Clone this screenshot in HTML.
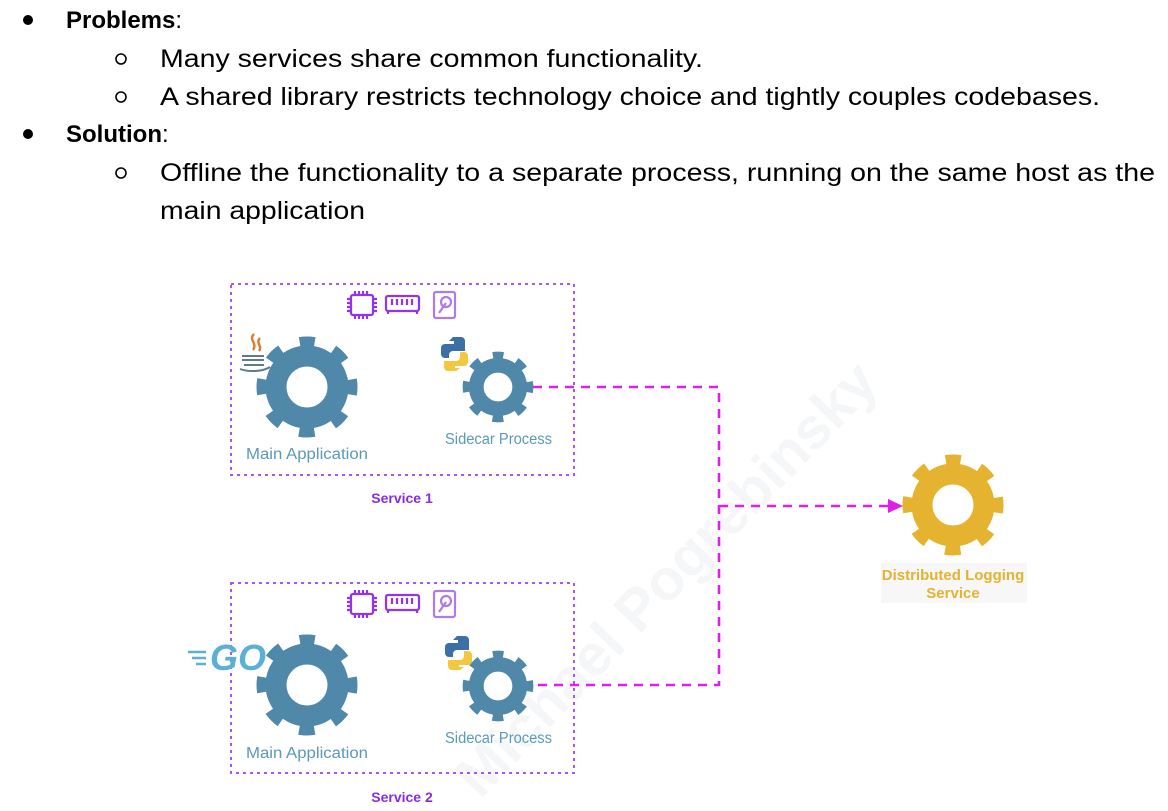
<!DOCTYPE html>
<html><head><meta charset="utf-8"><style>
html,body{margin:0;padding:0;background:#fff;}
body{width:1168px;height:811px;overflow:hidden;position:relative;font-family:"Liberation Sans",Arial,sans-serif;}
svg{position:absolute;left:0;top:0;}
</style></head><body>
<svg width="1168" height="811" viewBox="0 0 1168 811" xmlns="http://www.w3.org/2000/svg">
<defs>
<g id="gear">
  <circle r="0.62" fill="none" stroke-width="0.42"/>
  <circle r="0.88" fill="none" stroke-width="0.26" stroke-dasharray="0.3 0.391" stroke-dashoffset="0.15" transform="rotate(-90)"/>
</g>
</defs>
<!-- watermark -->
<text x="0" y="0" transform="translate(480,800) rotate(-46)" font-family="Liberation Sans" font-weight="bold" font-size="58" fill="#f5f6f8">Michael Pogrebinsky</text>

<!-- top text -->
<g font-family="Liberation Sans" font-size="25" fill="#000">
  <circle cx="28" cy="20" r="5"/>
  <text x="66" y="28" font-weight="bold" font-size="24">Problems<tspan font-weight="normal">:</tspan></text>
  <circle cx="121" cy="59" r="5" fill="none" stroke="#000" stroke-width="1.6"/>
  <text x="160" y="67" textLength="543" lengthAdjust="spacingAndGlyphs">Many services share common functionality.</text>
  <circle cx="121" cy="97" r="5" fill="none" stroke="#000" stroke-width="1.6"/>
  <text x="160" y="105" textLength="940" lengthAdjust="spacingAndGlyphs">A shared library restricts technology choice and tightly couples codebases.</text>
  <circle cx="28" cy="134" r="5"/>
  <text x="66" y="142" font-weight="bold" font-size="24">Solution<tspan font-weight="normal">:</tspan></text>
  <circle cx="121" cy="173" r="5" fill="none" stroke="#000" stroke-width="1.6"/>
  <text x="160" y="181" textLength="995" lengthAdjust="spacingAndGlyphs">Offline the functionality to a separate process, running on the same host as the</text>
  <text x="160" y="219" textLength="205" lengthAdjust="spacingAndGlyphs">main application</text>
</g>

<!-- boxes -->
<g fill="none" stroke="#a855f7" stroke-width="2" stroke-dasharray="3 4">
  <rect x="231" y="284" width="343" height="191"/>
  <rect x="231" y="583" width="343" height="190"/>
</g>

<!-- resource icons -->
<g fill="none" stroke="#9333ea" stroke-width="2.2">
  <g id="icons1">
    <rect x="351" y="295" width="22" height="20" rx="2"/>
    <path d="M355 291v4M359 291v4M363 291v4M367 291v4M355 315v4M359 315v4M363 315v4M367 315v4M347 299h4M347 303h4M347 307h4M347 311h4M373 299h4M373 303h4M373 307h4M373 311h4"/>
    <rect x="386" y="296" width="33" height="15" rx="2"/>
    <path d="M392 299v6M397 299v6M402 299v6M407 299v6M412 299v6M388 311v3M417 311v3"/>
    <rect x="434" y="292" width="21" height="26" rx="2" stroke="#b07ae8"/>
    <circle cx="446" cy="302" r="5" stroke="#b07ae8"/>
    <path d="M446 303l-7 10" stroke="#b07ae8"/>
  </g>
  <use href="#icons1" transform="translate(0,299)"/>
</g>

<!-- connectors -->
<g fill="none" stroke="#e020e8" stroke-width="2.6" stroke-dasharray="9 7">
  <path d="M533 387H719V685H533"/>
  <path d="M719 506H892"/>
</g>
<path d="M888 499L903 506L888 513Z" fill="#e020e8"/>

<!-- gears -->
<g stroke="#4f88a8" fill="none">
  <use href="#gear" transform="translate(307,387) scale(50)"/>
  <use href="#gear" transform="translate(498,387) scale(35)"/>
  <use href="#gear" transform="translate(307,685) scale(50)"/>
  <use href="#gear" transform="translate(498,686) scale(35)"/>
</g>
<g stroke="#e5b32f" fill="none">
  <use href="#gear" transform="translate(953,505) scale(50)"/>
</g>

<!-- java -->
<g>
  <path d="M254 334c-6 6 4 9-1 16M260 338c-5 5 3 8-1 13" stroke="#e07a2e" stroke-width="2.4" fill="none"/>
  <path d="M242 356h22M242 360h22M244 365h20M240 369c8 3 22 3 30 -2" stroke="#5a7a98" stroke-width="2" fill="none"/>
</g>
<!-- GO -->
<text x="210" y="670" font-family="Liberation Sans" font-weight="bold" font-style="italic" font-size="36" fill="#5ab0d6">GO</text>
<path d="M188 652h18M192 658h14M196 664h10" stroke="#5ab0d6" stroke-width="2.5"/>
<!-- python -->
<g id="py">
  <path d="M453 337h8a4 4 0 0 1 4 4v10h-12a4 4 0 0 0 -4 4v3h-4a4 4 0 0 1 -4 -4v-6a4 4 0 0 1 4 -4h9v-3h-5z" fill="#3b6fa5"/>
  <path d="M456 371h-8a4 4 0 0 1 -4 -4v-6h12a4 4 0 0 0 4 -4v-5h4a4 4 0 0 1 4 4v6a4 4 0 0 1 -4 4h-9v2h5z" fill="#f3c73e"/>
</g>
<use href="#py" transform="translate(4,299)"/>

<!-- labels -->
<g font-family="Liberation Sans" font-size="15.5" fill="#5a9ab8">
  <text x="246" y="459" textLength="122" lengthAdjust="spacingAndGlyphs">Main Application</text>
  <text x="445" y="444" textLength="107" lengthAdjust="spacingAndGlyphs">Sidecar Process</text>
  <text x="246" y="758" textLength="122" lengthAdjust="spacingAndGlyphs">Main Application</text>
  <text x="445" y="743" textLength="107" lengthAdjust="spacingAndGlyphs">Sidecar Process</text>
</g>
<g font-family="Liberation Sans" font-size="14" font-weight="bold" fill="#8a2be2" text-anchor="middle">
  <text x="402" y="503">Service 1</text>
  <text x="402" y="802">Service 2</text>
</g>
<rect x="881" y="563" width="146" height="40" fill="#f7f7f8"/>
<g font-family="Liberation Sans" font-size="15" font-weight="bold" fill="#e5b32f" text-anchor="middle">
  <text x="953" y="580">Distributed Logging</text>
  <text x="953" y="598">Service</text>
</g>
</svg>
</body></html>
